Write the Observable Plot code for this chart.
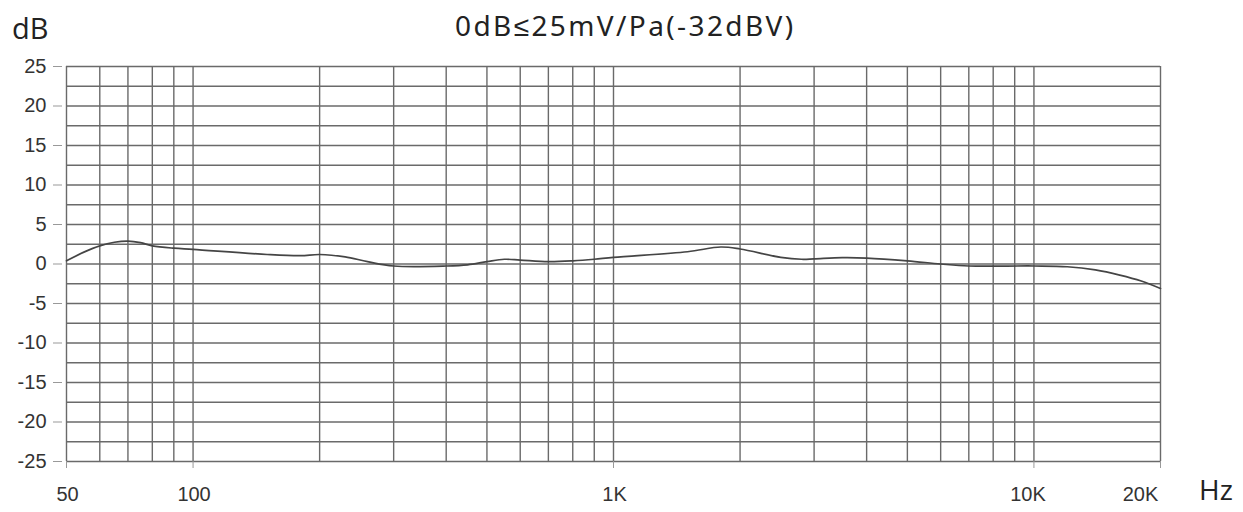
<!DOCTYPE html>
<html>
<head>
<meta charset="utf-8">
<script src="https://cdn.jsdelivr.net/npm/d3@7"></script>
<script src="https://cdn.jsdelivr.net/npm/@observablehq/plot@0.6"></script>
<style>
  body { margin: 0; background: #fff; }
  #wrap { position: relative; width: 1243px; height: 512px; }
  .lbl { position: absolute; color: #222; white-space: nowrap; line-height: 1; }
</style>
</head>
<body>
<div id="wrap">
  <div class="lbl" id="ylab" style="left:12px; top:13px; font-family:'Open Sans', sans-serif; font-size:29px;">dB</div>
  <div class="lbl" id="title" style="left:455px; top:11px; font-family:'Noto Sans', sans-serif; font-size:28px; letter-spacing:2.4px;">0dB≤25mV/Pa(-32dBV)</div>
  <div class="lbl" id="xlab" style="left:1199px; top:475px; font-family:'Open Sans', sans-serif; font-size:28px;">Hz</div>
</div>
<script>
// Frequency response data (Hz, dB)
const freq = [50, 55, 60, 65, 70, 75, 80, 90, 100, 150, 180, 200, 230, 260, 300, 400, 450, 500, 550, 600, 700, 800, 900, 1000, 1500, 1800, 2000, 2500, 2800, 3000, 3500, 4000, 5000, 6000, 7000, 10000, 12000, 14000, 16000, 18000, 20000];
const level = [0.4, 1.5, 2.3, 2.75, 2.9, 2.7, 2.3, 2.0, 1.85, 1.2, 1.05, 1.2, 0.9, 0.3, -0.25, -0.25, -0.1, 0.3, 0.6, 0.5, 0.3, 0.4, 0.6, 0.85, 1.55, 2.15, 1.9, 0.85, 0.6, 0.65, 0.8, 0.75, 0.4, 0.0, -0.25, -0.25, -0.35, -0.75, -1.4, -2.15, -3.1];

// Grid and tick definitions
const xGrid = [60, 70, 80, 90, 100, 200, 300, 400, 500, 600, 700, 800, 900, 1000, 2000, 3000, 4000, 5000, 6000, 7000, 8000, 9000, 10000, 20000];
const yGrid = [-25, -22.5, -20, -17.5, -15, -12.5, -10, -7.5, -5, -2.5, 0, 2.5, 5, 7.5, 10, 12.5, 15, 17.5, 20, 22.5, 25];
const yTicks = [-25, -20, -15, -10, -5, 0, 5, 10, 15, 20, 25];
const xTicks = [50, 100, 1000, 10000, 20000];
const xTickLabels = ["50", "100", "1K", "10K", "20K"];

const labelOf = new Map(xTicks.map((t, i) => [t, xTickLabels[i]]));
const data = freq.map((f, i) => ({f, v: level[i]}));
const gridColor = "#6a6a6a";
const textOpts = {fill: "#333", fontSize: 20, frameAnchor: "bottom", lineAnchor: "middle", dy: 33};

const chart = Plot.plot({
  width: 1243,
  height: 512,
  marginLeft: 66,
  marginRight: 83,
  marginTop: 66,
  marginBottom: 51,
  x: {type: "log", domain: [50, 20000]},
  y: {domain: [-25, 25]},
  style: {fontFamily: "'Liberation Sans', Arial, sans-serif", fontSize: "20px", color: "#333", background: "transparent"},
  marks: [
    Plot.ruleY(yGrid, {stroke: gridColor, strokeWidth: 1.4}),
    Plot.ruleX(xGrid, {stroke: gridColor, strokeWidth: 1.4}),
    Plot.ruleX([50], {stroke: gridColor, strokeWidth: 1.4}),
    Plot.axisY(yTicks, {tickSize: 9, dx: -4, tickPadding: 7, stroke: "#999", fill: "#333", fontSize: 20, label: null, tickFormat: d => String(d)}),
    Plot.axisX(xTicks, {tickSize: 7, stroke: "#999", label: null, tickFormat: () => ""}),
    Plot.text(xTicks.slice(0, 3), {...textOpts, x: d => d, text: d => labelOf.get(d), dx: 1}),
    Plot.text(xTicks.slice(3, 4), {...textOpts, x: d => d, text: d => labelOf.get(d), dx: -6}),
    Plot.text(xTicks.slice(4), {...textOpts, x: d => d, text: d => labelOf.get(d), dx: -20}),
    Plot.line(data, {x: "f", y: "v", curve: "catmull-rom", stroke: "#454545", strokeWidth: 1.7})
  ]
});
chart.style.position = "absolute";
chart.style.left = "0px";
chart.style.top = "0px";
document.getElementById("wrap").prepend(chart);
</script>
</body>
</html>
